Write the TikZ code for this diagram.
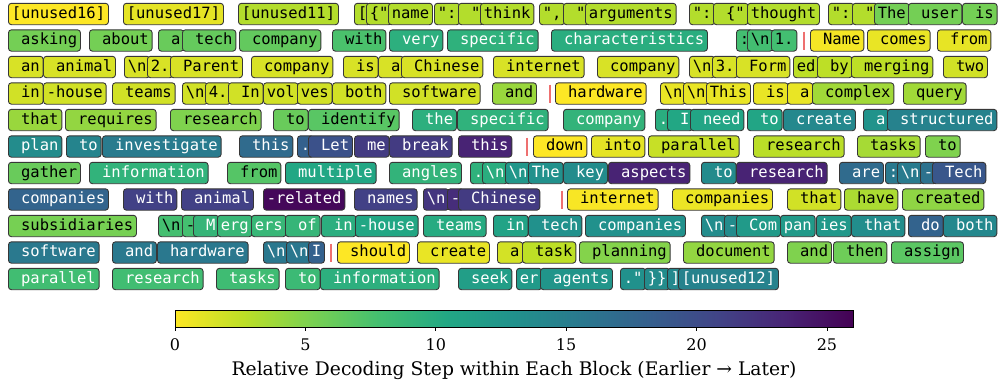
\documentclass[tikz,border=0pt]{standalone}
\usepackage{fontspec}
\newfontfamily\tokfont{DejaVu Sans Mono}
\newfontfamily\serfont{DejaVu Serif}
\definecolor{vir0}{RGB}{68,1,84}
\definecolor{vir1}{RGB}{72,36,117}
\definecolor{vir2}{RGB}{65,68,135}
\definecolor{vir3}{RGB}{53,95,141}
\definecolor{vir4}{RGB}{42,120,142}
\definecolor{vir5}{RGB}{33,145,140}
\definecolor{vir6}{RGB}{34,168,132}
\definecolor{vir7}{RGB}{68,191,112}
\definecolor{vir8}{RGB}{122,209,81}
\definecolor{vir9}{RGB}{189,223,38}
\definecolor{vir10}{RGB}{253,231,37}
\definecolor{bordc}{RGB}{55,55,55}
\definecolor{redbarc}{RGB}{238,112,112}
\pgfdeclarehorizontalshading{virr}{100bp}{color(0bp)=(vir10); color(25bp)=(vir10); color(30bp)=(vir9); color(35bp)=(vir8); color(40bp)=(vir7); color(45bp)=(vir6); color(50bp)=(vir5); color(55bp)=(vir4); color(60bp)=(vir3); color(65bp)=(vir2); color(70bp)=(vir1); color(75bp)=(vir0); color(100bp)=(vir0)}
\newcount\tkn
\newcommand\spc{\phantom{0}}
\newcommand\setvir[1]{%
  \pgfmathsetmacro\virt{10*(1-(#1)/26)}%
  \pgfmathtruncatemacro\viri{min(9,floor(\virt))}%
  \pgfmathtruncatemacro\virf{round(100*(\virt-\viri))}%
  \pgfmathtruncatemacro\virj{\viri+1}%
  \colorlet{tokc}{vir\virj!\virf!vir\viri}%
}
\newcommand\tk[4]{%
  \setvir{#3}%
  \ifdim #3pt<8pt\def\tkt{black}\else\def\tkt{white}\fi
  \global\advance\tkn by 1
  \pgfmathsetmacro\tky{14+(#2-1)*26.5}%
  \node[tok,fill=tokc,text=\tkt] (t\the\tkn) at (#1,\tky) {#4};%
}
\newcommand\rbar[2]{%
  \pgfmathsetmacro\tky{14+(#2-1)*26.5}%
  \draw[rbar] (#1,\tky-9) -- (#1,\tky+9);%
}
\newcommand\bs{\textbackslash n}
\tikzset{
  tok/.style={draw=bordc, line width=0.9pt, rounded corners=3pt, inner xsep=3.35pt, inner ysep=3.2pt, text height=11.6pt, text depth=3.4pt, anchor=west, font={\tokfont\fontsize{15.5}{18}\selectfont}},
  rbar/.style={draw=redbarc, line width=2.2pt},
  ticklab/.style={font={\serfont\fontsize{16}{18}\selectfont}, inner sep=0pt},
}
\begin{document}
\begin{tikzpicture}[x=1pt,y=-1pt]
\useasboundingbox (0,0) rectangle (1000,381);
% row 1
\tk{8}{1}{0}{[unused16]}
\tk{123}{1}{1}{[unused17]}
\tk{238}{1}{3}{[unused11]}
\tk{354}{1}{3}{[}
\tk{366}{1}{3}{\{"}
\tk{388}{1}{3}{name}
\tk{434}{1}{3}{":}
\tk{458}{1}{3}{\spc"}
\tk{480}{1}{3}{think}
\tk{539}{1}{3}{",}
\tk{563}{1}{3}{\spc"}
\tk{585}{1}{3}{arguments}
\tk{689}{1}{3}{":}
\tk{713}{1}{3}{\spc\{"}
\tk{747}{1}{3}{thought}
\tk{828}{1}{3}{":}
\tk{852}{1}{3}{\spc"}
\tk{874}{1}{5.5}{The}
\tk{908}{1}{5.5}{\spc user}
\tk{962}{1}{5.5}{\spc is}
% row 2
\tk{8}{2}{5.5}{\spc asking}
\tk{89}{2}{5.5}{\spc about}
\tk{158}{2}{6}{\spc a}
\tk{182}{2}{6.2}{\spc tech}
\tk{239}{2}{6.3}{\spc company}
\tk{332}{2}{7.5}{\spc with}
\tk{389}{2}{9.6}{\spc very}
\tk{447}{2}{9.4}{\spc specific}
\tk{551}{2}{9.8}{\spc characteristics}
\tk{736}{2}{7.9}{:}
\tk{747}{2}{7.9}{\bs}
\tk{771}{2}{7.9}{1.}
\rbar{804}{2}
\tk{810}{2}{0.3}{\spc Name}
\tk{867}{2}{0.8}{\spc comes}
\tk{937}{2}{0.9}{\spc from}
% row 3
\tk{8}{3}{1.5}{\spc an}
\tk{43}{3}{1.5}{\spc animal}
\tk{124}{3}{1.5}{\bs}
\tk{147}{3}{1.5}{2.}
\tk{170}{3}{1.5}{\spc Parent}
\tk{251}{3}{1.5}{\spc company}
\tk{343}{3}{1.5}{\spc is}
\tk{378}{3}{1.5}{\spc a}
\tk{401}{3}{1.5}{\spc Chinese}
\tk{493}{3}{1.5}{\spc internet}
\tk{597}{3}{1.5}{\spc company}
\tk{689}{3}{1.5}{\bs}
\tk{712}{3}{1.5}{3.}
\tk{736}{3}{1.5}{\spc Form}
\tk{793}{3}{2.6}{ed}
\tk{817}{3}{2.6}{\spc by}
\tk{851}{3}{2.6}{\spc merging}
\tk{943}{3}{1.8}{\spc two}
% row 4
\tk{8}{4}{1.8}{\spc in}
\tk{43}{4}{1.8}{-house}
\tk{112}{4}{1.8}{\spc teams}
\tk{182}{4}{1.8}{\bs}
\tk{205}{4}{1.8}{4.}
\tk{228}{4}{1.8}{\spc In}
\tk{263}{4}{1.8}{vol}
\tk{297}{4}{1.8}{ves}
\tk{332}{4}{1.8}{\spc both}
\tk{389}{4}{1.8}{\spc software}
\tk{492}{4}{4}{\spc and}
\rbar{550}{4}
\tk{555}{4}{0}{\spc hardware}
\tk{660}{4}{0.8}{\bs}
\tk{683}{4}{0.8}{\bs}
\tk{706}{4}{0.8}{This}
\tk{753}{4}{0.8}{\spc is}
\tk{787}{4}{0.8}{\spc a}
\tk{812}{4}{3.7}{\spc complex}
\tk{903}{4}{3.7}{\spc query}
% row 5
\tk{8}{5}{4}{\spc that}
\tk{65}{5}{4.2}{\spc requires}
\tk{170}{5}{5}{\spc research}
\tk{273}{5}{6}{\spc to}
\tk{308}{5}{6.8}{\spc identify}
\tk{412}{5}{9.6}{\spc the}
\tk{457}{5}{9.3}{\spc specific}
\tk{563}{5}{9.1}{\spc company}
\tk{655}{5}{9.8}{.}
\tk{667}{5}{10.5}{\spc I}
\tk{690}{5}{10.7}{\spc need}
\tk{747}{5}{10.8}{\spc to}
\tk{783}{5}{14}{\spc create}
\tk{863}{5}{12.8}{\spc a}
\tk{887}{5}{14.5}{\spc structured}
% row 6
\tk{8}{6}{13.5}{\spc plan}
\tk{66}{6}{14.3}{\spc to}
\tk{102}{6}{15.3}{\spc investigate}
\tk{239}{6}{17}{\spc this}
\tk{297}{6}{18}{.}
\tk{308}{6}{19.5}{\spc Let}
\tk{354}{6}{21.5}{\spc me}
\tk{389}{6}{21.5}{\spc break}
\tk{458}{6}{23.5}{\spc this}
\rbar{527}{6}
\tk{533}{6}{0}{\spc down}
\tk{591}{6}{1}{\spc into}
\tk{648}{6}{2.2}{\spc parallel}
\tk{753}{6}{2.7}{\spc research}
\tk{857}{6}{3.5}{\spc tasks}
\tk{925}{6}{5}{\spc to}
% row 7
\tk{8}{7}{6}{\spc gather}
\tk{89}{7}{9.2}{\spc information}
\tk{227}{7}{7}{\spc from}
\tk{285}{7}{10.5}{\spc multiple}
\tk{389}{7}{9.1}{\spc angles}
\tk{470}{7}{9.4}{.}
\tk{482}{7}{9.8}{\bs}
\tk{505}{7}{12.3}{\bs}
\tk{528}{7}{13}{The}
\tk{563}{7}{13.5}{\spc key}
\tk{608}{7}{23.5}{\spc aspects}
\tk{701}{7}{13.6}{\spc to}
\tk{736}{7}{23.5}{\spc research}
\tk{839}{7}{17}{\spc are}
\tk{885}{7}{15.5}{:}
\tk{897}{7}{15.3}{\bs}
\tk{920}{7}{16.2}{-}
\tk{932}{7}{19}{\spc Tech}
% row 8
\tk{8}{8}{17.7}{\spc companies}
\tk{123}{8}{21}{\spc with}
\tk{181}{8}{21}{\spc animal}
\tk{263}{8}{25.5}{-related}
\tk{354}{8}{21}{\spc names}
\tk{423}{8}{22}{\bs}
\tk{447}{8}{22.7}{-}
\tk{458}{8}{21.5}{\spc Chinese}
\rbar{562}{8}
\tk{567}{8}{0.2}{\spc internet}
\tk{672}{8}{0.7}{\spc companies}
\tk{787}{8}{1.8}{\spc that}
\tk{844}{8}{3.3}{\spc have}
\tk{902}{8}{4.4}{\spc created}
% row 9
\tk{8}{9}{5.4}{\spc subsidiaries}
\tk{158}{9}{7.8}{\bs}
\tk{182}{9}{7.8}{-}
\tk{193}{9}{8.9}{\spc M}
\tk{217}{9}{8.7}{erg}
\tk{251}{9}{8.7}{ers}
\tk{285}{9}{8.9}{\spc of}
\tk{321}{9}{9.7}{\spc in}
\tk{355}{9}{10.5}{-house}
\tk{423}{9}{10}{\spc teams}
\tk{493}{9}{11}{\spc in}
\tk{528}{9}{13}{\spc tech}
\tk{585}{9}{13}{\spc companies}
\tk{701}{9}{13.5}{\bs}
\tk{724}{9}{13.6}{-}
\tk{736}{9}{12}{\spc Com}
\tk{780}{9}{12}{pan}
\tk{816}{9}{12.2}{ies}
\tk{851}{9}{13.4}{\spc that}
\tk{908}{9}{17.8}{\spc do}
\tk{943}{9}{14}{\spc both}
% row 10
\tk{8}{10}{15.5}{\spc software}
\tk{112}{10}{15.5}{\spc and}
\tk{157}{10}{15.6}{\spc hardware}
\tk{263}{10}{15.6}{\bs}
\tk{286}{10}{15.7}{\bs}
\tk{308}{10}{18}{I}
\rbar{331}{10}
\tk{337}{10}{0}{\spc should}
\tk{417}{10}{0.8}{\spc create}
\tk{497}{10}{1.7}{\spc a}
\tk{522}{10}{2.6}{\spc task}
\tk{579}{10}{4.8}{\spc planning}
\tk{683}{10}{4.2}{\spc document}
\tk{787}{10}{5}{\spc and}
\tk{833}{10}{5.8}{\spc then}
\tk{891}{10}{6.7}{\spc assign}
% row 11
\tk{8}{11}{8}{\spc parallel}
\tk{112}{11}{8}{\spc research}
\tk{216}{11}{8.2}{\spc tasks}
\tk{285}{11}{8.4}{\spc to}
\tk{320}{11}{9.6}{\spc information}
\tk{458}{11}{11.5}{\spc seek}
\tk{516}{11}{12}{er}
\tk{540}{11}{12.5}{\spc agents}
\tk{620}{11}{13}{."}
\tk{644}{11}{13.5}{\}\}}
\tk{667}{11}{14}{]}
\tk{678}{11}{14.5}{[unused12]}
% colorbar
\shade[shading=virr] (175,310) rectangle (853,327);
\draw[line width=0.8pt] (175,310) rectangle (853,327);
\foreach \v in {0,5,10,15,20,25}{
  \pgfmathsetmacro\tx{175+\v*26.077}
  \draw[line width=0.8pt] (\tx,327) -- (\tx,331);
  \node[ticklab] (tick\v) at (\tx,345) {\v};
}
\node[font={\serfont\fontsize{18.7}{22}\selectfont}, inner sep=0pt] (cblabel) at (514,370) {Relative Decoding Step within Each Block (Earlier → Later)};
\end{tikzpicture}
\end{document}
